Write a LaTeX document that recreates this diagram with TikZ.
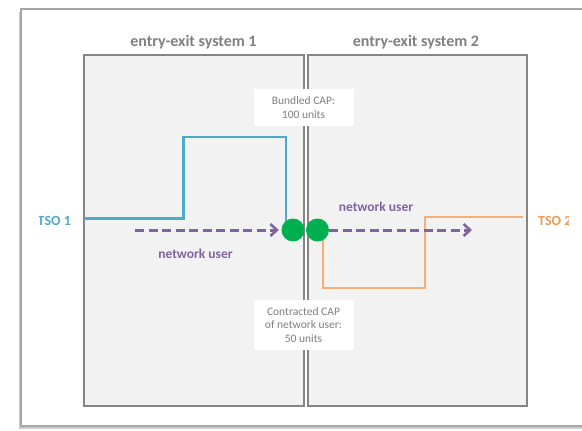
\documentclass[tikz,border=0pt]{standalone}
\usepackage{fontspec}
\setmainfont{Carlito}
\usetikzlibrary{arrows.meta,shadows}

\definecolor{framegray}{HTML}{A6A6A6}
\definecolor{boxgray}{HTML}{858585}
\definecolor{boxfill}{HTML}{F2F2F2}
\definecolor{labelgray}{HTML}{808080}
\definecolor{tsocyan}{HTML}{4BACC6}
\definecolor{tsoorange}{HTML}{F4AE76}
\definecolor{tsoorangetext}{HTML}{EE9A55}
\definecolor{userpurple}{HTML}{8064A2}
\definecolor{pointgreen}{HTML}{00B050}

\tikzset{
  syslabel/.style={font=\fontsize{16}{18}\selectfont\bfseries, text=labelgray},
  systembox/.style={draw=boxgray, line width=2pt, fill=boxfill},
  capbox/.style={fill=white, font=\fontsize{11.5}{13.7}\selectfont, text=labelgray, align=center},
  userlabel/.style={font=\fontsize{13.5}{16}\selectfont\bfseries, text=userpurple},
  tsolabel/.style={font=\fontsize{14}{16}\selectfont\bfseries, anchor=west, inner sep=0pt},
  ipoint/.style={circle, fill=pointgreen, draw=none, minimum size=23pt, inner sep=0pt},
  flow/.style={draw=userpurple, line width=3pt, dash pattern=on 9pt off 4.5pt,
    -{Straight Barb[length=6.5pt,width=12pt,line width=2.6pt]}},
  cyanline/.style={draw=tsocyan, line width=2.2pt},
  orangeline/.style={draw=tsoorange, line width=1.8pt},
}

\begin{document}
\begin{tikzpicture}[x=1pt, y=-1pt]
  % canvas
  \clip (0,0) rectangle (582,431);
  \fill[white] (0,0) rectangle (582,431);

  % outer frame with its shadow
  \path[fill=white, draw=framegray, line width=1.2pt,
        drop shadow={shadow xshift=-2.5pt, shadow yshift=-2.5pt, opacity=0.45, fill=black!45}]
    (21,9) rectangle (640,426);

  % the two entry-exit systems
  \path[systembox] (84,55) rectangle (303.5,405.5);
  \path[systembox] (307.5,55) rectangle (527,405.5);
  \node[syslabel] (sys1) at (193.5,42) {entry-exit system 1};
  \node[syslabel] (sys2) at (416,42) {entry-exit system 2};

  % capacity labels on the border
  \node[capbox, minimum width=100pt, minimum height=37pt] (bundled) at (303.5,107.5)
    {Bundled CAP:\\100 units};
  \node[capbox, minimum width=100pt, minimum height=50pt] (contracted) at (303.5,325)
    {Contracted CAP\\of network user:\\50 units};

  % TSO labels, cut by the frame of the slide
  \begin{scope}
    \clip (39.5,180) rectangle (80,260);
    \node[tsolabel, text=tsocyan] (tso1) at (37.5,220.5) {TSO 1};
  \end{scope}
  \begin{scope}
    \clip (530,180) rectangle (568,260);
    \node[tsolabel, text=tsoorangetext] (tso2) at (538,220.5) {TSO 2};
  \end{scope}

  % capacity profiles of the two TSOs
  \coordinate (cyA) at (84,218.5);
  \coordinate (cyB) at (183.5,218.5);
  \coordinate (cyC) at (183.5,137);
  \coordinate (cyD) at (286,137);
  \coordinate (cyE) at (286,226);
  \draw[cyanline] (cyA) -- (cyB) -- (cyC) -- (cyD) -- (cyE);

  \coordinate (orA) at (323,236);
  \coordinate (orB) at (323,288);
  \coordinate (orC) at (425,288);
  \coordinate (orD) at (425,217);
  \coordinate (orE) at (523,217);
  \draw[orangeline] (orA) -- (orB) -- (orC) -- (orD) -- (orE);

  % interconnection points
  \node[ipoint] (c1) at (293,230) {};
  \node[ipoint] (c2) at (317.5,230) {};

  % network user flows
  \coordinate (nuA) at (135,230);
  \coordinate (nuB) at (472,230);
  \draw[flow, shorten >=2.5pt] (nuA) -- (c1.west);
  \draw[flow] (c2.east) -- (nuB);
  \node[userlabel] (nu1) at (195.5,254) {network user};
  \node[userlabel] (nu2) at (376,206.5) {network user};
\end{tikzpicture}
\end{document}
